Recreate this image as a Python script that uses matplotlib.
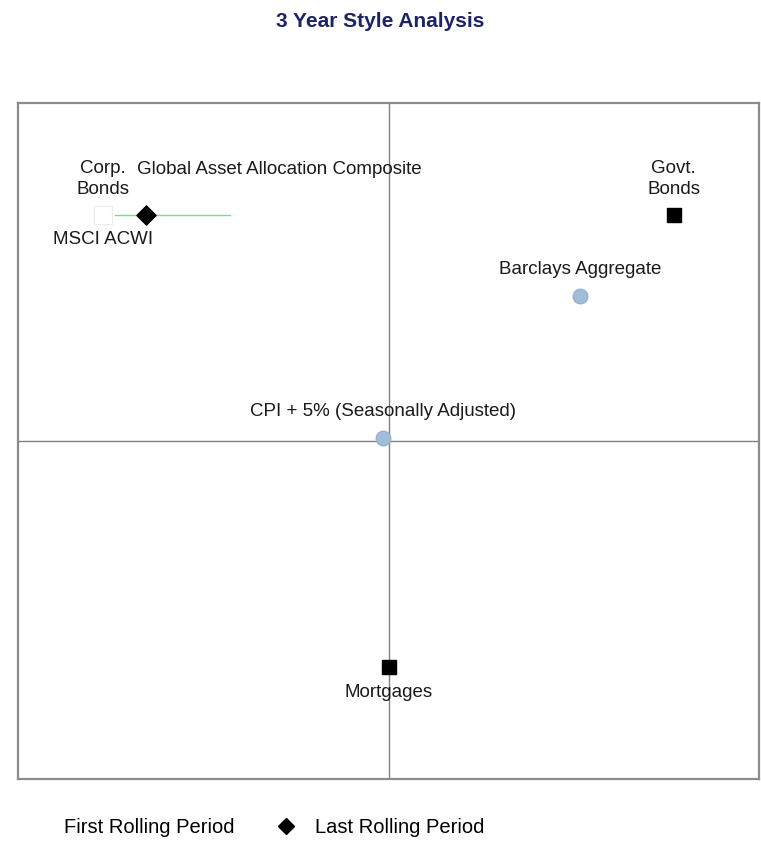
"""3 Year Style Analysis map."""
import matplotlib

matplotlib.use("Agg")
import matplotlib.pyplot as plt
from matplotlib.lines import Line2D

plt.rcParams["font.family"] = ["Liberation Sans", "DejaVu Sans"]

# style-map data (x: -1..1, y: -1..1)
index_names = ["Corp.\nBonds", "MSCI ACWI", "Govt.\nBonds", "Mortgages"]
index_x = [-0.77, -0.77, 0.77, 0.0]
index_y = [0.67, 0.67, 0.67, -0.67]

bench_names = ["Barclays Aggregate", "CPI + 5% (Seasonally Adjusted)"]
bench_x = [0.517, -0.015]
bench_y = [0.429, 0.009]

comp_name = "Global Asset Allocation Composite"
comp_x = -0.654
comp_y = 0.67
trail_x = [-0.738, -0.428]
trail_y = [0.67, 0.67]

fig = plt.figure(figsize=(7.61, 8.51), dpi=100)
ax = fig.add_axes([0.0237, 0.0846, 0.9737, 0.7944])
ax.set_xlim(-1, 1)
ax.set_ylim(-1, 1)
ax.set_xticks([])
ax.set_yticks([])
for sp in ax.spines.values():
    sp.set_color("#8c8c8c")
    sp.set_linewidth(1.6)
ax.axhline(0, color="#808080", lw=1.0, zorder=1)
ax.axvline(0, color="#808080", lw=1.0, zorder=1)

# corner indices (Corp. Bonds / MSCI ACWI hidden behind white squares)
ax.scatter(index_x[:2], index_y[:2], marker="s", s=150, facecolor="white",
           edgecolor="#ececec", lw=0.8, zorder=2)
ax.scatter(index_x[2:], index_y[2:], marker="s", s=110, color="black", zorder=3)

lab = dict(fontsize=13.5, color="#1a1a1a", ha="center", linespacing=1.3)
for i, (name, x, y) in enumerate(zip(index_names, index_x, index_y)):
    above = i in (0, 2)
    ax.annotate(name, (x, y), xytext=(0, 12 if above else -12),
                textcoords="offset points", va="bottom" if above else "top", **lab)

# benchmarks
ax.scatter(bench_x, bench_y, s=110, color="#a2bdd8", edgecolor="#95b2d0", zorder=3)
for name, x, y in zip(bench_names, bench_x, bench_y):
    ax.annotate(name, (x, y), xytext=(0, 13), textcoords="offset points",
                va="bottom", **lab)

# composite
ax.plot(trail_x, trail_y, color="#7fdc7f", lw=1.0, zorder=3)
ax.scatter([comp_x], [comp_y], marker="D", s=95, color="black", zorder=4)
ax.annotate(comp_name, (comp_x, comp_y), xytext=(96, 26), textcoords="offset points",
            va="bottom", **lab)

fig.text(0.5, 0.975, "3 Year Style Analysis", ha="center", va="center",
         fontsize=15, fontweight="bold", color="#1c2366")

handles = [Line2D([], [], ls="none"),
           Line2D([], [], ls="none", marker="D", color="black", markersize=8)]
fig.legend(handles, ["First Rolling Period", "Last Rolling Period"], ncol=2,
           loc="center left", bbox_to_anchor=(0.008, 0.028), frameon=False,
           fontsize=14.5, handlelength=1.2, columnspacing=1.95, handletextpad=0.8)

fig.savefig("out.png", dpi=100)
